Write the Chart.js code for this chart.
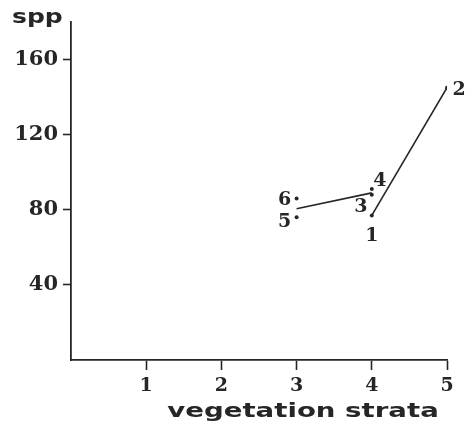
<!DOCTYPE html>
<html>
<head>
<meta charset="utf-8">
<script src="https://cdn.jsdelivr.net/npm/chart.js@4"></script>
<style>
  html, body { margin: 0; padding: 0; background: #fff; }
  #wrap { width: 469px; height: 426px; }
</style>
</head>
<body>
<div id="wrap"><canvas id="sppChart"></canvas></div>
<script>
// site numbers and their values
const siteLabels = ['1', '2', '3', '4', '5', '6'];
const siteStrata = [4, 5, 4, 4, 3, 3];
const siteSpp = [77, 145, 88, 91, 76, 86];

// the two drawn segments
const lineA_x = [3, 4];
const lineA_y = [80.5, 89];
const lineB_x = [4, 5];
const lineB_y = [77, 145];

const xTicks = [1, 2, 3, 4, 5];
const yTicks = [40, 80, 120, 160];

// where each number sits relative to its dot (px)
const labelOffsets = [[0, 21], [12, 2], [-11, 12], [8, -8], [-12, 5], [-12, 2]];

const ink = '#262626';

function pts(xs, ys) {
    return xs.map(function(x, i) { return { x: x, y: ys[i] }; });
}

const siteNumbers = {
    id: 'siteNumbers',
    afterDatasetsDraw: function(chart) {
        var ctx = chart.ctx;
        var meta = chart.getDatasetMeta(0);
        ctx.save();
        ctx.fillStyle = ink;
        ctx.font = 'bold 19px "DejaVu Serif"';
        ctx.textAlign = 'center';
        ctx.textBaseline = 'middle';
        meta.data.forEach(function(el, i) {
            var off = labelOffsets[i];
            ctx.fillText(siteLabels[i], el.x + off[0], el.y + off[1]);
        });
        ctx.restore();
    }
};

// axis titles in a wide bold face
const axisTitles = {
    id: 'axisTitles',
    afterDraw: function(chart) {
        var ctx = chart.ctx;
        var area = chart.chartArea;
        ctx.save();
        ctx.fillStyle = ink;
        ctx.font = 'bold 20px "DejaVu Sans"';
        ctx.textBaseline = 'alphabetic';

        ctx.save();
        ctx.translate(12, 23);
        ctx.scale(1.25, 1);
        ctx.textAlign = 'left';
        ctx.fillText('spp', 0, 0);
        ctx.restore();

        ctx.save();
        ctx.translate((area.left + area.right) / 2 + 44, 417);
        ctx.scale(1.38, 1);
        ctx.textAlign = 'center';
        ctx.fillText('vegetation strata', 0, 0);
        ctx.restore();

        ctx.restore();
    }
};

new Chart(document.getElementById('sppChart').getContext('2d'), {
    type: 'scatter',
    data: {
        datasets: [
            {
                label: 'sites',
                data: pts(siteStrata, siteSpp),
                showLine: false,
                pointRadius: 2,
                pointBackgroundColor: ink,
                pointBorderWidth: 0
            },
            {
                label: 'a',
                data: pts(lineA_x, lineA_y),
                showLine: true,
                borderColor: ink,
                borderWidth: 1.6,
                pointRadius: 0
            },
            {
                label: 'b',
                data: pts(lineB_x, lineB_y),
                showLine: true,
                borderColor: ink,
                borderWidth: 1.6,
                pointRadius: 0
            }
        ]
    },
    options: {
        responsive: true,
        maintainAspectRatio: false,
        animation: false,
        layout: { padding: { top: 22, right: 22, left: 0, bottom: 0 } },
        plugins: {
            legend: { display: false },
            tooltip: { enabled: false }
        },
        scales: {
            x: {
                type: 'linear',
                min: 0,
                max: 5,
                afterBuildTicks: function(scale) {
                    scale.ticks = xTicks.map(function(v) { return { value: v }; });
                },
                afterFit: function(scale) { scale.height = 66; },
                grid: {
                    drawOnChartArea: false,
                    tickLength: 10,
                    tickWidth: 1.6,
                    tickColor: ink
                },
                border: { display: true, color: ink, width: 1.8 },
                ticks: {
                    color: ink,
                    padding: 5,
                    maxRotation: 0,
                    font: { family: '"DejaVu Serif"', size: 19, weight: 'bold' }
                }
            },
            y: {
                type: 'linear',
                min: 0,
                max: 180,
                afterBuildTicks: function(scale) {
                    scale.ticks = yTicks.map(function(v) { return { value: v }; });
                },
                afterFit: function(scale) { scale.width = 71; },
                grid: {
                    drawOnChartArea: false,
                    tickLength: 8,
                    tickWidth: 1.6,
                    tickColor: ink
                },
                border: { display: true, color: ink, width: 1.8 },
                ticks: {
                    color: ink,
                    padding: 5,
                    font: { family: '"DejaVu Serif"', size: 21, weight: 'bold' }
                }
            }
        }
    },
    plugins: [siteNumbers, axisTitles]
});
</script>
</body>
</html>
